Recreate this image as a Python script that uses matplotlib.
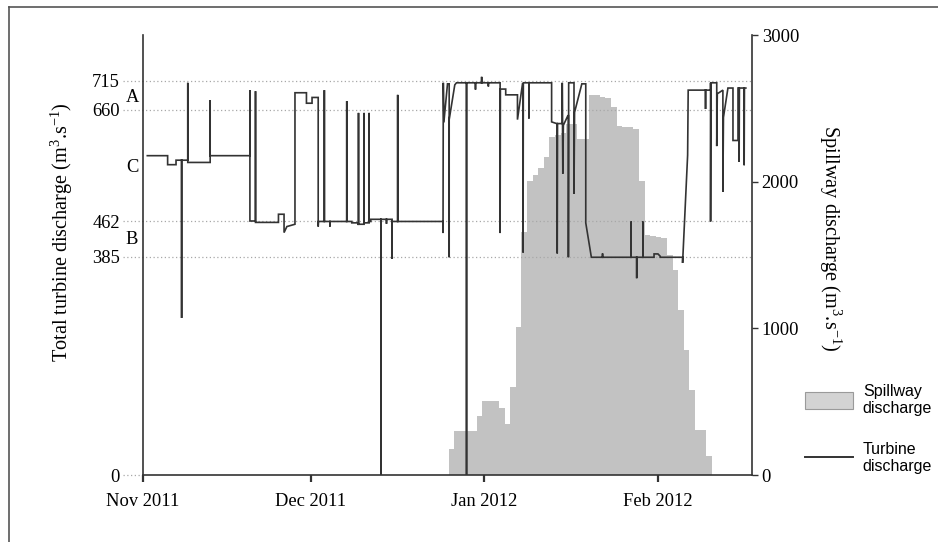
import numpy as np
import pandas as pd
import matplotlib
matplotlib.use("Agg")
import matplotlib.pyplot as plt
import matplotlib.dates as mdates
from matplotlib.ticker import FixedLocator, FixedFormatter
from matplotlib.lines import Line2D
from matplotlib.patches import Patch

# ---------------- data ----------------
origin = "2011-11-01"
# turbine discharge trace: day offset from 1 Nov 2011, value (m3/s)
turb_day = [0.77, 4.4, 4.4, 5.9, 5.9, 6.9, 6.9, 6.9, 8.0, 8.0, 8.0, 12.0, 12.0, 12.0,
            19.1, 19.1, 19.1, 20.1, 20.1, 20.1, 24.2, 24.2, 25.2, 25.2, 25.7, 27.15,
            27.15, 29.2, 29.2, 30.2, 30.2, 31.3, 31.3, 31.35, 32.4, 32.4, 32.4, 33.4,
            33.4, 33.4, 36.4, 36.4, 36.4, 37.3, 37.3, 38.4, 38.4, 38.5, 38.5, 38.5,
            39.5, 39.5, 39.5, 40.4, 40.4, 40.4, 40.7, 40.7, 42.5, 42.5, 42.5, 43.5,
            43.5, 43.5, 44.5, 44.5, 44.5, 45.5, 45.5, 45.5, 53.6, 53.6, 53.65, 53.75,
            54.4, 54.7, 54.7, 54.7, 55.7, 56.0, 57.8, 57.8, 57.8, 59.4, 59.4, 59.4,
            60.5, 60.5, 60.5, 61.7, 61.7, 61.7, 63.8, 63.8, 63.85, 64.8, 64.8, 66.9,
            66.9, 67.8, 67.9, 67.9, 67.95, 68.95, 68.95, 68.95, 73.0, 73.0, 73.9, 74.0,
            74.0, 74.05, 74.9, 74.9, 75.0, 75.1, 75.9, 76.0, 76.0, 76.05, 77.0, 77.0,
            77.1, 78.4, 79.1, 79.1, 80.1, 82.1, 82.1, 82.1, 87.2, 87.2, 87.2, 88.2,
            88.2, 88.2, 89.3, 89.3, 89.3, 91.3, 91.3, 92.0, 92.4, 92.4, 96.4, 96.4,
            97.3, 97.4, 100.5, 100.5, 100.5, 101.4, 101.4, 101.4, 101.45, 102.5, 102.5,
            102.6, 103.6, 103.6, 103.7, 104.5, 105.4, 105.4, 106.3, 106.3, 106.5, 106.5,
            106.55, 107.4, 107.4, 107.45, 107.7]
turb_val = [578, 578, 562, 562, 570, 570, 277, 570, 570, 711, 566, 566, 678, 578,
            578, 697, 462, 462, 695, 459, 459, 474, 474, 437, 450, 455,
            692, 692, 672, 672, 683, 683, 450, 461, 461, 697, 461, 461,
            450, 461, 461, 676, 461, 461, 458, 458, 455, 455, 654, 455,
            455, 654, 458, 458, 654, 461, 461, 465, 465, 0, 465, 465,
            456, 465, 465, 381, 461, 461, 688, 461, 461, 436, 711, 637,
            709, 709, 384, 642, 707, 711, 711, 0, 711, 711, 698, 711,
            711, 722, 711, 711, 704, 711, 711, 436, 699, 699, 688, 688,
            642, 709, 709, 394, 711, 711, 644, 711, 711, 638, 635, 635,
            392, 635, 635, 711, 546, 632, 649, 649, 384, 711, 711, 510,
            655, 709, 709, 458, 384, 384, 392, 384, 384, 461, 384, 384,
            347, 384, 384, 461, 384, 384, 391, 391, 386, 384, 384, 374,
            579, 697, 697, 661, 697, 697, 711, 461, 711, 711, 595,
            690, 697, 514, 646, 701, 701, 605, 605, 701, 701, 567,
            701, 701, 561, 701, 701]

# spillway discharge: daily values (m3/s) starting 25 Dec 2011
spill_start = "2011-12-25 14:24"
spill_val = [175, 301, 301, 301, 301, 401, 506, 506, 506, 460, 345, 597, 1009, 1655,
             2007, 2048, 2090, 2166, 2306, 2320, 2335, 2392, 2392, 2290, 2290, 2590,
             2590, 2580, 2570, 2510, 2381, 2375, 2370, 2360, 2002, 1633, 1628, 1622,
             1615, 1503, 1395, 1122, 850, 578, 306, 306, 129]

left_ticks = [0, 385, 462, 660, 715]
right_ticks = [0, 1000, 2000, 3000]
level_names = ["A", "C", "B"]
legend_labels = ["Spillway\ndischarge", "Turbine\ndischarge"]

# ---------------- style ----------------
W, H = 938, 542
plt.rcParams["font.family"] = ["Liberation Serif", "DejaVu Serif"]
plt.rcParams["mathtext.fontset"] = "custom"
plt.rcParams["mathtext.rm"] = "Liberation Serif"
plt.rcParams["mathtext.it"] = "Liberation Serif:italic"
plt.rcParams["mathtext.bf"] = "Liberation Serif:bold"
FS = 13.3
LFS = 14.6
spine_c = "#333333"
line_c = "#333333"
fill_c = "#c2c2c2"
grid_c = "#a8a8a8"

fig = plt.figure(figsize=(W / 100, H / 100), dpi=100)
L, R, B, T = 143, 752, 475, 35
ax = fig.add_axes([L / W, 1 - B / H, (R - L) / W, (B - T) / H])
ax2 = ax.twinx()
ax.set_zorder(ax2.get_zorder() + 1)
ax.patch.set_visible(False)

# piecewise scale for the left axis, matching the original tick placement
vm = np.array([0, 385, 462, 660, 715, 797], float)
hm = np.array([0, 218.3, 254, 365.5, 394.3, 440], float)


def fwd(v):
    v = np.asarray(v, float)
    out = np.interp(v, vm, hm)
    out = np.where(v < vm[0], v * hm[1] / vm[1], out)
    out = np.where(v > vm[-1], hm[-1] + (v - vm[-1]) * (hm[-1] - hm[-2]) / (vm[-1] - vm[-2]), out)
    return out


def inv(h):
    h = np.asarray(h, float)
    out = np.interp(h, hm, vm)
    out = np.where(h < hm[0], h * vm[1] / hm[1], out)
    out = np.where(h > hm[-1], vm[-1] + (h - hm[-1]) * (vm[-1] - vm[-2]) / (hm[-1] - hm[-2]), out)
    return out


ax.set_yscale("function", functions=(fwd, inv))

t0 = pd.Timestamp(origin)
tx = mdates.date2num(t0 + pd.to_timedelta(np.array(turb_day), unit="D"))
sd = pd.date_range(spill_start, periods=len(spill_val) + 1, freq="D")
sx = mdates.date2num(sd)

ax2.stairs(spill_val, sx, fill=True, color=fill_c, lw=0)
ax.plot(tx, turb_val, color=line_c, lw=1.2, solid_joinstyle="miter")

xmin = mdates.date2num(t0)
xmax = xmin + 108.8
ax.set_xlim(xmin, xmax)
ax.set_ylim(0, 797)
ax2.set_ylim(0, 3000)

# dotted reference levels extending to the tick labels
for v in left_ticks:
    ax.axhline(v, xmin=-0.033, xmax=1 if v > 0 else 0, color=grid_c, lw=0.9,
               ls=(0, (1, 2)), clip_on=False, zorder=0.5)

for s in ["top", "right"]:
    ax.spines[s].set_visible(False)
ax2.spines["top"].set_visible(False)
ax2.spines["left"].set_visible(False)
ax2.spines["bottom"].set_visible(False)
for sp in [ax.spines["left"], ax.spines["bottom"], ax2.spines["right"]]:
    sp.set_color(spine_c)
    sp.set_linewidth(1.2)

ax.yaxis.set_major_locator(FixedLocator(left_ticks))
ax.yaxis.set_major_formatter(FixedFormatter([str(v) for v in left_ticks]))
ax.yaxis.set_minor_locator(FixedLocator([]))
ax.tick_params(axis="y", length=0, pad=16.5, labelsize=FS)
ax.xaxis.set_major_locator(mdates.MonthLocator())
ax.xaxis.set_major_formatter(mdates.DateFormatter("%b %Y"))
ax.tick_params(axis="x", length=5, width=1.6, color=spine_c, direction="out",
               pad=8, labelsize=FS)

ax2.yaxis.set_major_locator(FixedLocator(right_ticks))
ax2.tick_params(axis="y", length=4, width=1.0, color=spine_c, pad=3, labelsize=FS)

# level letters
for name, yp in zip(level_names, [97, 168, 240]):
    fig.text(132 / W, 1 - yp / H, name, fontsize=FS, ha="center", va="center")

fig.text(62 / W, 1 - 232 / H, "Total turbine discharge (m$^{3}$.s$^{-1}$)",
         rotation=90, fontsize=LFS, ha="center", va="center")
fig.text(830 / W, 1 - 238 / H, "Spillway discharge (m$^{3}$.s$^{-1}$)",
         rotation=-90, fontsize=LFS, ha="center", va="center")

handles = [Patch(facecolor="#d3d3d3", edgecolor="#9a9a9a", lw=0.8),
           Line2D([], [], color=line_c, lw=1.4)]
fig.legend(handles, legend_labels, loc="upper left",
           bbox_to_anchor=(805 / W, 1 - 384 / H), frameon=False, borderpad=0,
           borderaxespad=0, handlelength=3.0, handleheight=1.25, handletextpad=0.62,
           labelspacing=1.6, prop={"family": "Liberation Sans", "size": 11.5})

# outer frame
fig.add_artist(Line2D([9 / W, 1], [1 - 7 / H, 1 - 7 / H], transform=fig.transFigure,
                      color="#555555", lw=1.2))
fig.add_artist(Line2D([9 / W, 9 / W], [0, 1 - 7 / H], transform=fig.transFigure,
                      color="#555555", lw=1.2))

fig.savefig("out.png", dpi=100)
